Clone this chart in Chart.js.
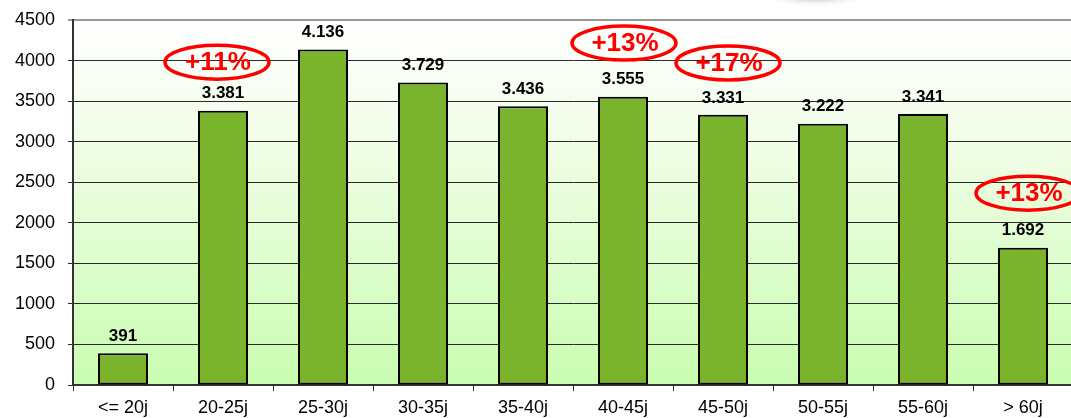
<!DOCTYPE html>
<html>
<head>
<meta charset="utf-8">
<script src="https://cdn.jsdelivr.net/npm/chart.js@4.4.0/dist/chart.umd.min.js"></script>
<style>
  html, body { margin: 0; padding: 0; background: #fff; overflow: hidden; }
  #wrap { width: 1090px; height: 418px; }
</style>
</head>
<body>
<div id="wrap"><canvas id="chart" width="1090" height="418"></canvas></div>
<script>
const categories = ['<= 20j', '20-25j', '25-30j', '30-35j', '35-40j', '40-45j', '45-50j', '50-55j', '55-60j', '> 60j'];
const counts = [391, 3381, 4136, 3729, 3436, 3555, 3331, 3222, 3341, 1692];
const yTicks = [0, 500, 1000, 1500, 2000, 2500, 3000, 3500, 4000, 4500];

// red circled growth notes: label, category index, y value of the centre
const noteLabels = ['+11%', '+13%', '+17%', '+13%'];
const noteIndex = [1, 5, 6, 9];
const noteValue = [3980, 4215, 3970, 2365];

function fmt(v) {
  return v.toLocaleString('de-DE');
}

const backgroundPlugin = {
  id: 'bg',
  beforeDraw(chart) {
    const { ctx, chartArea: a } = chart;
    ctx.save();
    const g = ctx.createLinearGradient(0, a.top, 0, a.bottom);
    g.addColorStop(0, '#ffffff');
    g.addColorStop(0.35, '#f0fde6');
    g.addColorStop(1, '#c9fdb1');
    ctx.fillStyle = g;
    ctx.fillRect(a.left, a.top, a.right - a.left, a.bottom - a.top);
    // soft grey shadow at the top
    const sx = 815, sy = -6;
    const rg = ctx.createRadialGradient(sx, sy, 0, sx, sy, 60);
    rg.addColorStop(0, 'rgba(150,150,150,0.9)');
    rg.addColorStop(0.35, 'rgba(170,170,170,0.6)');
    rg.addColorStop(1, 'rgba(255,255,255,0)');
    ctx.translate(sx, sy);
    ctx.scale(1, 0.22);
    ctx.translate(-sx, -sy);
    ctx.fillStyle = rg;
    ctx.beginPath();
    ctx.arc(sx, sy, 60, 0, Math.PI * 2);
    ctx.fill();
    ctx.restore();
  }
};

const labelPlugin = {
  id: 'labels',
  afterDatasetsDraw(chart) {
    const { ctx } = chart;
    const meta = chart.getDatasetMeta(0);
    ctx.save();
    ctx.font = 'bold 17px "Liberation Sans", Arial, sans-serif';
    ctx.fillStyle = '#000';
    ctx.textAlign = 'center';
    ctx.textBaseline = 'middle';
    meta.data.forEach((bar, i) => {
      ctx.fillText(fmt(counts[i]), bar.x, bar.y - 17);
    });

    const xs = chart.scales.x, ys = chart.scales.y;
    ctx.strokeStyle = '#ff0000';
    ctx.lineWidth = 3.5;
    ctx.fillStyle = '#ff0000';
    ctx.font = 'bold 26px "Liberation Sans", Arial, sans-serif';
    noteLabels.forEach((t, i) => {
      const cx = xs.getPixelForValue(noteIndex[i]) + (noteIndex[i] === 1 ? -6 : noteIndex[i] === 5 ? 1 : 5);
      const cy = ys.getPixelForValue(noteValue[i]);
      ctx.beginPath();
      ctx.ellipse(cx, cy, 52, 17, 0, 0, Math.PI * 2);
      ctx.stroke();
      ctx.fillText(t, cx + 1, cy + 1);
    });
    ctx.restore();
  }
};

new Chart(document.getElementById('chart'), {
  type: 'bar',
  data: {
    labels: categories,
    datasets: [{
      data: counts,
      backgroundColor: '#7ab42c',
      borderColor: '#000000',
      borderWidth: 2,
      borderSkipped: false,
      barPercentage: 0.5,
      categoryPercentage: 1.0
    }]
  },
  options: {
    responsive: false,
    animation: false,
    layout: { padding: { top: 20, right: 17, left: 0, bottom: 0 } },
    plugins: {
      legend: { display: false },
      tooltip: { enabled: false }
    },
    scales: {
      x: {
        grid: {
          drawOnChartArea: false,
          tickLength: 6,
          color: '#333',
          offset: true
        },
        border: { color: '#333', width: 2 },
        ticks: {
          color: '#000',
          padding: 6,
          maxRotation: 0,
          font: { family: '"Liberation Sans", Arial, sans-serif', size: 18 }
        },
        afterFit(scale) {
          scale.height = 33;
          scale.paddingLeft = 0;
          scale.paddingRight = 0;
        }
      },
      y: {
        min: 0,
        max: 4500,
        afterBuildTicks(scale) { scale.ticks = yTicks.map(v => ({ value: v })); },
        grid: {
          color: ctx => ctx.tick && ctx.tick.value === 4500 ? '#999999' : '#2a2a2a',
          lineWidth: ctx => ctx.tick && ctx.tick.value === 4500 ? 2 : 1,
          tickLength: 5
        },
        border: { color: '#333', width: 2 },
        ticks: {
          color: '#000',
          padding: 13,
          callback: v => String(v),
          font: { family: '"Liberation Sans", Arial, sans-serif', size: 18 }
        },
        afterFit(scale) {
          scale.width = 73;
          scale.paddingTop = 0;
          scale.paddingBottom = 0;
        }
      }
    }
  },
  plugins: [backgroundPlugin, labelPlugin]
});
</script>
</body>
</html>
